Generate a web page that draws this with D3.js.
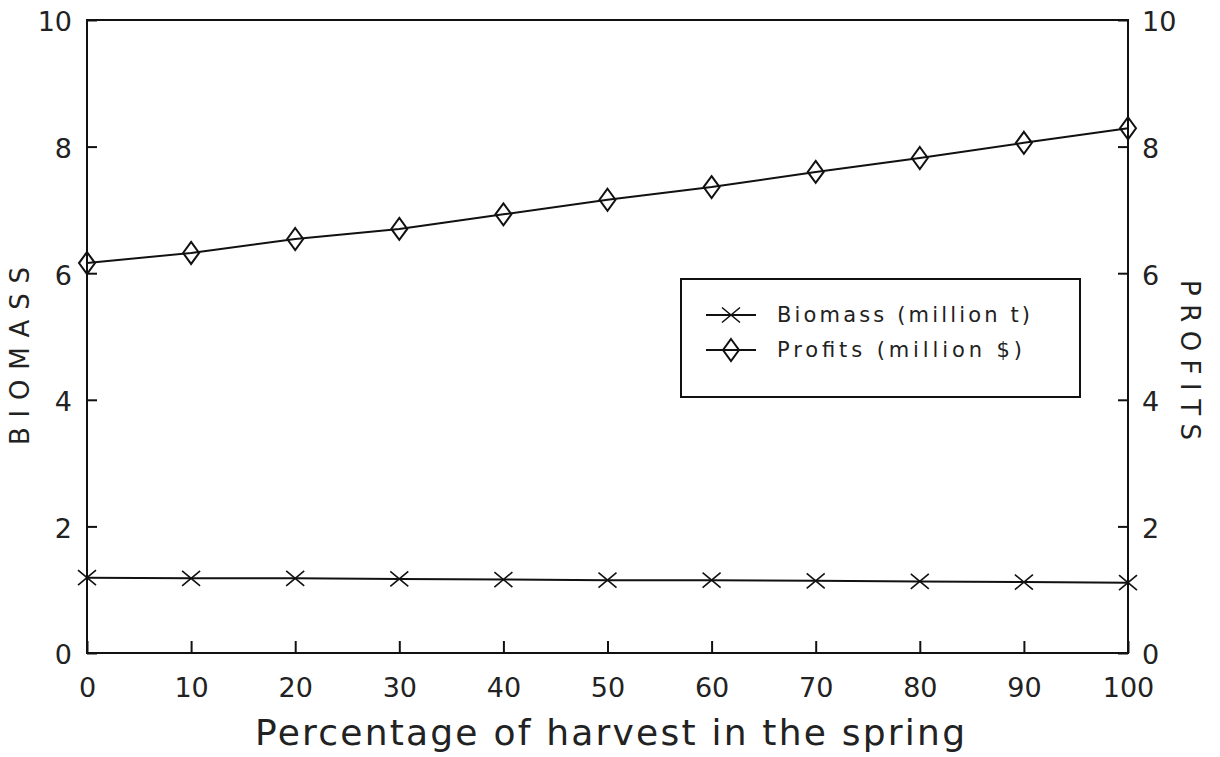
<!DOCTYPE html>
<html>
<head>
<meta charset="utf-8">
<script src="https://cdn.jsdelivr.net/npm/d3@7"></script>
<style>
  html, body { margin: 0; padding: 0; background: #fff; }
  svg { display: block; }
  text { font-family: "DejaVu Sans", "Liberation Sans", sans-serif; fill: #222; }
</style>
</head>
<body>
<script>
// Harvest split (% taken in spring) and model outputs
const harvestPct = [0, 10, 20, 30, 40, 50, 60, 70, 80, 90, 100];
const biomass = [1.19, 1.18, 1.18, 1.17, 1.16, 1.15, 1.15, 1.14, 1.13, 1.12, 1.11];
const profits = [6.16, 6.32, 6.54, 6.70, 6.93, 7.16, 7.36, 7.60, 7.82, 8.06, 8.29];
const xTicks = [0, 10, 20, 30, 40, 50, 60, 70, 80, 90, 100];
const yTicks = [0, 2, 4, 6, 8, 10];
const seriesNames = ["Biomass (million t)", "Profits (million $)"];

const W = 1220, H = 757;
const m = { left: 87, right: 1128, top: 20, bottom: 653 };
const ink = "#111";
const fontStack = "'DejaVu Sans', 'Liberation Sans', sans-serif";

const svg = d3.select("body").append("svg").attr("width", W).attr("height", H);

const x = d3.scaleLinear().domain([0, 100]).range([m.left, m.right]);
const yL = d3.scaleLinear().domain([0, 10]).range([m.bottom, m.top]);
const yR = d3.scaleLinear().domain([0, 10]).range([m.bottom, m.top]);

// Frame
svg.append("rect")
  .attr("x", m.left).attr("y", m.top)
  .attr("width", m.right - m.left).attr("height", m.bottom - m.top)
  .attr("fill", "none").attr("stroke", ink).attr("stroke-width", 2);

// Axes with inward ticks
const axisStyle = g => {
  g.select(".domain").remove();
  g.selectAll(".tick line").attr("stroke", ink).attr("stroke-width", 2);
  g.selectAll(".tick text").style("font-size", "27px")
    .style("font-family", fontStack).attr("fill", "#222");
};

svg.append("g").attr("transform", `translate(0,${m.bottom})`)
  .call(d3.axisBottom(x).tickValues(xTicks).tickSize(-12).tickPadding(25).tickFormat(d3.format("d")))
  .call(axisStyle)
  .call(g => g.selectAll(".tick text").attr("dy", "0.72em"));

svg.append("g").attr("transform", `translate(${m.left},0)`)
  .call(d3.axisLeft(yL).tickValues(yTicks).tickSize(-10).tickPadding(15).tickFormat(d3.format("d")))
  .call(axisStyle)
  .call(g => g.selectAll(".tick text").attr("dy", "0.4em"));

svg.append("g").attr("transform", `translate(${m.right},0)`)
  .call(d3.axisRight(yR).tickValues(yTicks).tickSize(-10).tickPadding(14).tickFormat(d3.format("d")))
  .call(axisStyle)
  .call(g => g.selectAll(".tick text").attr("dy", "0.4em"));

// Axis titles
svg.append("text")
  .attr("x", 255).attr("y", 745)
  .attr("textLength", 710).attr("lengthAdjust", "spacing")
  .style("font-size", "36px")
  .text("Percentage of harvest in the spring");

svg.append("text")
  .attr("transform", "translate(29,445) rotate(-90)")
  .attr("textLength", 178).attr("lengthAdjust", "spacing")
  .style("font-size", "26px")
  .text("BIOMASS");

svg.append("text")
  .attr("transform", "translate(1181,280) rotate(90)")
  .attr("textLength", 160).attr("lengthAdjust", "spacing")
  .style("font-size", "26px")
  .text("PROFITS");

// Series lines
const line = (ys, yScale) => d3.line().x((d, i) => x(harvestPct[i])).y(d => yScale(d))(ys);

svg.append("path").attr("d", line(biomass, yL))
  .attr("fill", "none").attr("stroke", ink).attr("stroke-width", 2);
svg.append("path").attr("d", line(profits, yR))
  .attr("fill", "none").attr("stroke", ink).attr("stroke-width", 2);

// Markers
const crossPath = "M-9,-7.5L9,7.5M-9,7.5L9,-7.5";
const diamondPath = "M0,-11L8,0L0,11L-8,0Z";

svg.append("g").selectAll("path").data(biomass).join("path")
  .attr("transform", (d, i) => `translate(${x(harvestPct[i])},${yL(d)})`)
  .attr("d", crossPath).attr("fill", "none").attr("stroke", ink).attr("stroke-width", 1.6);

svg.append("g").selectAll("path").data(profits).join("path")
  .attr("transform", (d, i) => `translate(${x(harvestPct[i])},${yR(d)})`)
  .attr("d", diamondPath).attr("fill", "none").attr("stroke", ink).attr("stroke-width", 2);

// Legend
const lg = svg.append("g");
lg.append("rect").attr("x", 681).attr("y", 279).attr("width", 399).attr("height", 118)
  .attr("fill", "#fff").attr("stroke", ink).attr("stroke-width", 2);

const legendRows = [
  { name: seriesNames[0], marker: crossPath, y: 315, sw: 1.6 },
  { name: seriesNames[1], marker: diamondPath, y: 350, sw: 2 }
];
const lrow = lg.selectAll("g.row").data(legendRows).join("g").attr("class", "row");
lrow.append("line").attr("x1", 706).attr("x2", 756).attr("y1", d => d.y).attr("y2", d => d.y)
  .attr("stroke", ink).attr("stroke-width", 2);
lrow.append("path").attr("transform", d => `translate(731,${d.y})`).attr("d", d => d.marker)
  .attr("fill", "none").attr("stroke", ink).attr("stroke-width", d => d.sw);
lrow.append("text").attr("x", 777).attr("y", d => d.y + 7)
  .attr("textLength", (d, i) => i === 0 ? 253 : 245).attr("lengthAdjust", "spacing")
  .style("font-size", "21px")
  .text(d => d.name);
</script>
</body>
</html>
